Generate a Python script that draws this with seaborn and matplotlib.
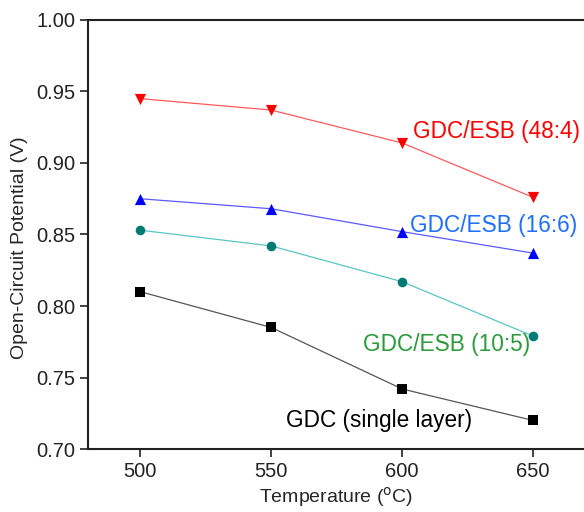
import numpy as np
import pandas as pd
import matplotlib
matplotlib.use("Agg")
import matplotlib.pyplot as plt
import seaborn as sns

# data
temps = [500, 550, 600, 650]
ocp_48_4 = [0.945, 0.937, 0.914, 0.876]
ocp_16_6 = [0.875, 0.868, 0.852, 0.837]
ocp_10_5 = [0.853, 0.842, 0.817, 0.779]
ocp_gdc = [0.810, 0.785, 0.742, 0.720]
labels = ["GDC/ESB (48:4)", "GDC/ESB (16:6)", "GDC/ESB (10:5)", "GDC (single layer)"]

sns.set_theme(style="ticks")
plt.rcParams['font.family'] = ['Liberation Sans', 'DejaVu Sans']

fig = plt.figure(figsize=(5.84, 5.12), dpi=100)
ax = fig.add_axes([0.1507, 0.123, 0.8493, 0.838])

series = [
    (ocp_48_4, "#ff5a5a", "red", "v", 65, "red", (604, 0.9217)),
    (ocp_16_6, "#5a5aff", "blue", "^", 65, "#1f6fff", (603, 0.8566)),
    (ocp_10_5, "#5cc4c4", "#007b73", "o", 48, "#2a9a3a", (585, 0.7734)),
    (ocp_gdc, "#555555", "black", "s", 42, "black", (555.5, 0.7196)),
]

for (vals, lc, mc, mk, ms, tc, pos), lab in zip(series, labels):
    df = pd.DataFrame({"T": temps, "V": vals})
    sns.lineplot(data=df, x="T", y="V", color=lc, linewidth=0.9, ax=ax, zorder=2)
    sns.scatterplot(data=df, x="T", y="V", color=mc, marker=mk, s=ms,
                    edgecolor=mc, linewidth=0, ax=ax, zorder=3)
    ax.text(pos[0], pos[1], lab, color=tc, fontsize=16.3, ha="left", va="center")

ax.set_xlim(480, 669.5)
ax.set_ylim(0.70, 1.00)
ax.set_xticks([500, 550, 600, 650])
ax.set_yticks(np.arange(0.70, 1.001, 0.05))
ax.set_yticklabels([f"{v:.2f}" for v in np.arange(0.70, 1.001, 0.05)])
ax.tick_params(labelsize=14.5, direction="out", length=6, width=1.2, colors="#222222", pad=3)
ax.set_xlabel(r"Temperature ($^{\mathrm{o}}$C)", fontsize=14, labelpad=3)
ax.set_ylabel("Open-Circuit Potential (V)", fontsize=14)
ax.yaxis.set_label_coords(-0.12, 0.47)
for s in ["left", "bottom", "top"]:
    ax.spines[s].set_linewidth(1.5)
    ax.spines[s].set_color("#222222")
ax.spines["right"].set_visible(False)

fig.savefig("out.png", dpi=100)
